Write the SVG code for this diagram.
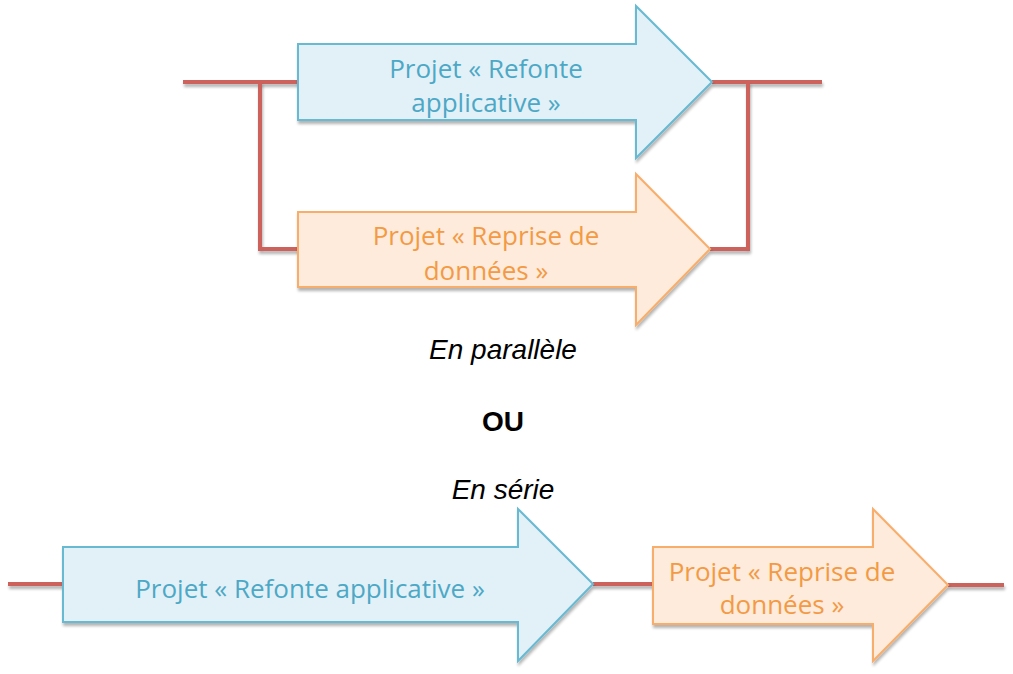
<svg xmlns="http://www.w3.org/2000/svg" width="1013" height="674" viewBox="0 0 1013 674">
<defs>
<filter id="sh" filterUnits="userSpaceOnUse" x="0" y="0" width="1013" height="674">
<feGaussianBlur in="SourceAlpha" stdDeviation="1.5"/>
<feOffset dx="1" dy="3" result="b"/>
<feComponentTransfer><feFuncA type="linear" slope="0.3"/></feComponentTransfer>
<feMerge><feMergeNode/><feMergeNode in="SourceGraphic"/></feMerge>
</filter>
</defs>
<style>
.wire{fill:none;stroke:#CD625C;stroke-width:4;stroke-linejoin:miter;filter:url(#sh)}
.blue{fill:#E2F1F7;stroke:#68B9D2;stroke-width:2;filter:url(#sh)}
.orange{fill:#FEEBDC;stroke:#F8AE6A;stroke-width:2;filter:url(#sh)}
.tb{fill:#4DA8C6;font-family:"Open Sans","Noto Sans",sans-serif;font-size:26px;text-anchor:middle}
.to{fill:#F39A45;font-family:"Open Sans","Noto Sans",sans-serif;font-size:26px;text-anchor:middle}
.lab{fill:#000;font-family:"Liberation Sans",Arial,sans-serif;font-size:28px;text-anchor:middle}
</style>
<g id="connectors">
<polyline class="wire" points="183,82 298,82"/>
<polyline class="wire" points="712,82 822,82"/>
<polyline class="wire" points="260,82 260,249 298,249"/>
<polyline class="wire" points="710,249 748,249 748,82"/>
<polyline class="wire" points="8,584 63,584"/>
<polyline class="wire" points="593,584 653,584"/>
<polyline class="wire" points="948,585 1004,585"/>
</g>
<g id="node-refonte-parallel">
<polygon class="blue" points="298,44 636,44 636,6 712,82 636,158 636,120 298,120"/>
<text class="tb" x="486" y="78">Projet « Refonte</text>
<text class="tb" x="486" y="112">applicative »</text>
</g>
<g id="node-reprise-parallel">
<polygon class="orange" points="298,212 636,212 636,174 710,249 636,325 636,287 298,287"/>
<text class="to" x="486" y="245">Projet « Reprise de</text>
<text class="to" x="486" y="280">données »</text>
</g>
<g id="label-parallele"><text class="lab" x="503" y="359" font-style="italic">En parallèle</text></g>
<g id="label-ou"><text class="lab" x="503" y="431" font-weight="bold">OU</text></g>
<g id="label-serie"><text class="lab" x="503" y="499" font-style="italic">En série</text></g>
<g id="node-refonte-serie">
<polygon class="blue" points="63,547 518,547 518,509 593,584 518,661 518,622 63,622"/>
<text class="tb" x="310" y="598">Projet « Refonte applicative »</text>
</g>
<g id="node-reprise-serie">
<polygon class="orange" points="653,547 873,547 873,509 948,585 873,661 873,624 653,624"/>
<text class="to" x="782" y="581">Projet « Reprise de</text>
<text class="to" x="782" y="614">données »</text>
</g>
</svg>
